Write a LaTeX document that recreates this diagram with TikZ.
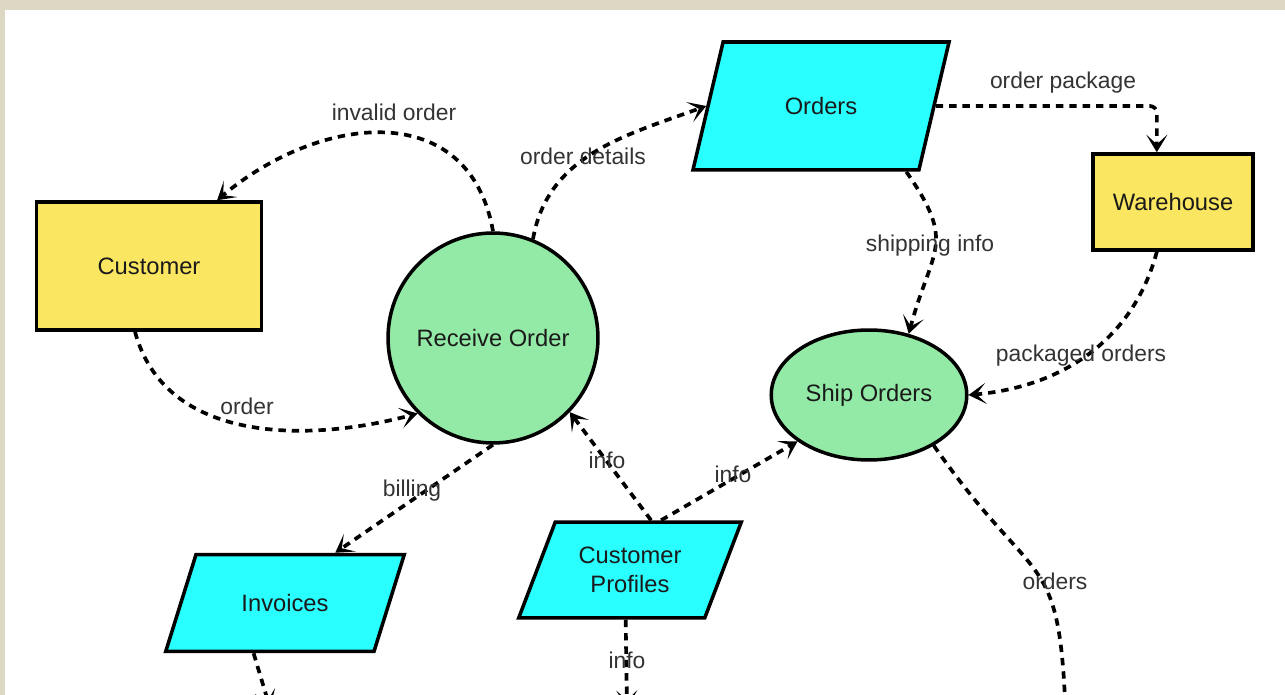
\documentclass[tikz,border=0pt]{standalone}
\usepackage{fontspec}
\setmainfont{Liberation Sans}
\usetikzlibrary{shapes.geometric,arrows.meta}

\definecolor{framebg}{RGB}{221,216,196}
\definecolor{entyellow}{RGB}{250,230,96}
\definecolor{procgreen}{RGB}{147,233,166}
\definecolor{storecyan}{RGB}{42,255,255}
\definecolor{lbltext}{RGB}{51,51,51}
\definecolor{nodetext}{RGB}{26,26,26}

\begin{document}
\begin{tikzpicture}[x=0.02cm,y=-0.02cm,
    entity/.style={draw,line width=2pt,fill=entyellow,text=nodetext,
        font=\fontsize{13.5}{16.5}\selectfont},
    process/.style={draw,line width=2pt,fill=procgreen,text=nodetext,
        font=\fontsize{13.5}{16.5}\selectfont},
    store/.style={draw,line width=2pt,fill=storecyan,text=nodetext,
        trapezium,trapezium stretches=true,align=center,
        font=\fontsize{13.5}{16.5}\selectfont},
    flow/.style={line width=2.1pt,dash pattern=on 4.2pt off 3.4pt,
        -{Stealth[length=10pt,width=12pt,inset=5.5pt]}},
    lbl/.style={text=lbltext,inner sep=1pt,font=\fontsize{13}{16.5}\selectfont}]

    % Frame
    \useasboundingbox (0,0) rectangle (1285,695);
    \clip (0,0) rectangle (1285,695);
    \fill[framebg] (0,0) rectangle (1285,695);
    \fill[white] (5,10) rectangle (1285,695);

    % Entities and processes
    \node[entity,minimum width=4.5cm,minimum height=2.56cm] (cust) at (149,266) {Customer};
    \node[entity,minimum width=3.2cm,minimum height=1.92cm] (wh) at (1173,202) {Warehouse};
    \node[process,circle,minimum size=4.2cm] (recv) at (493,338) {Receive Order};
    \node[process,ellipse,minimum width=3.84cm,minimum height=2.6cm] (ship) at (869,395) {Ship Orders};

    % Data stores
    \node[store,minimum width=5.14cm,minimum height=2.56cm,
        trapezium left angle=66,trapezium right angle=114] (orders) at (821,106) {Orders};
    \node[store,minimum width=4.8cm,minimum height=1.94cm,
        trapezium left angle=60,trapezium right angle=120] (inv) at (285,603) {Invoices};
    \node[store,minimum width=4.5cm,minimum height=1.92cm,
        trapezium left angle=64,trapezium right angle=116] (prof) at (630,570) {Customer\\Profiles};

    % Loose ends below the frame
    \coordinate (invout) at (270,708);
    \coordinate (profout) at (627,708);
    \coordinate (shipout) at (1066,725);

    % Flows
    \draw[flow] (cust.-102) to[out=-75,in=195] (recv.225);
    \draw[flow] (recv.north) to[out=100,in=40,looseness=1.25] (cust.44);
    \draw[flow] (recv.68) to[out=80,in=200] (orders.west);
    \draw[flow,rounded corners=4] (orders.east) -| (wh.108);
    \draw[flow] ([xshift=-0.28cm]orders.bottom right corner) to[out=-55,in=75,looseness=1.4] (ship.57);
    \draw[flow] (wh.-108) to[out=-105,in=5] (ship.east);
    \draw[flow] (recv.south) -- (inv.45);
    \draw[flow] (prof.67) -- (recv.-44);
    \draw[flow] (prof.58) -- (ship.213);
    \draw[flow] (inv.-122) -- (invout);
    \draw[flow] (prof.-95) -- (profout);
    \draw[flow] (ship.-38) to[out=-55,in=92,looseness=1.5] (shipout);

    % Labels
    \node[lbl] (l-invalid) at (394,112) {invalid order};
    \node[lbl] (l-details) at (583,156) {order details};
    \node[lbl] (l-package) at (1063,83) {order package};
    \node[lbl] (l-shipinfo) at (930,246) {shipping info};
    \node[lbl] (l-packaged) at (1081,356) {packaged orders};
    \node[lbl] (l-order) at (247,406) {order};
    \node[lbl] (l-billing) at (412,491) {billing};
    \node[lbl] (l-info1) at (607,460) {info};
    \node[lbl] (l-info2) at (733,474) {info};
    \node[lbl] (l-info3) at (627,660) {info};
    \node[lbl] (l-orders) at (1055,581) {orders};

\end{tikzpicture}
\end{document}
